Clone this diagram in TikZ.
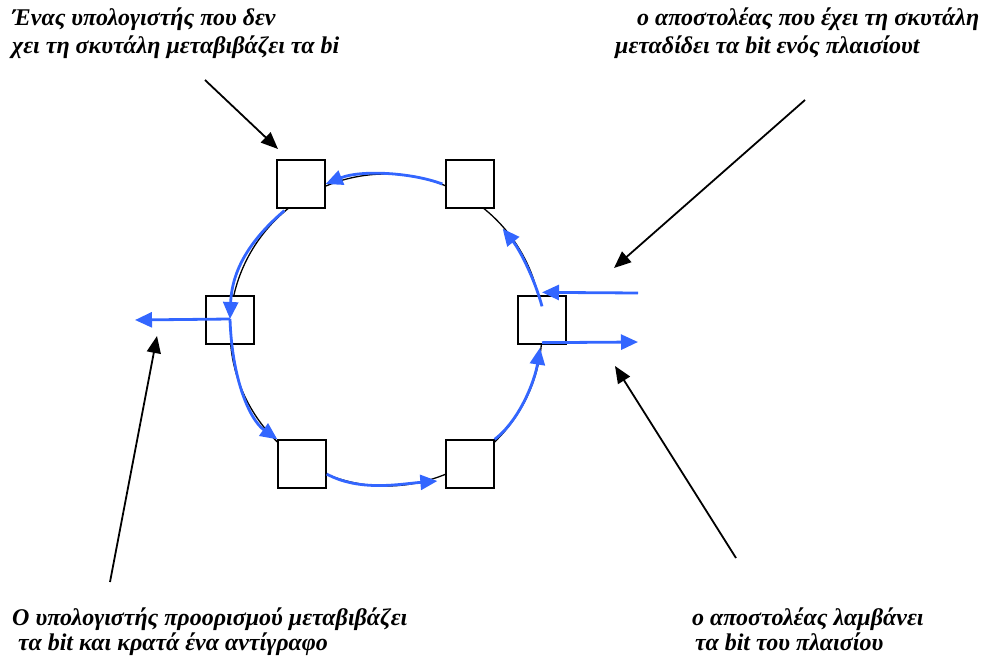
\documentclass[tikz,border=0pt]{standalone}
\usepackage{fontspec}
\setmainfont{Liberation Serif}
\usetikzlibrary{arrows.meta,calc}
\definecolor{flow}{RGB}{51,102,255}
\begin{document}
\begin{tikzpicture}[x=1pt,y=-1pt,
  station/.style={draw=black,fill=white,line width=1.3pt,minimum size=48pt,inner sep=0pt},
  ring/.style={draw=black,line width=1.3pt},
  flowarrow/.style={draw=flow,line width=2.8pt,-{Triangle[length=17pt,width=15pt]}},
  pointer/.style={draw=black,line width=1.8pt,-{Triangle[length=17pt,width=14pt]}},
  caption/.style={anchor=base west,inner sep=0pt,font=\fontsize{24}{26}\selectfont\bfseries\itshape}]
\useasboundingbox (0,0) rectangle (983,659);

% token ring
\draw[ring] (386,330) circle[radius=156];

% stations on the ring
\node[station] (tl) at (301,184) {};
\node[station] (tr) at (470,184) {};
\node[station] (lf) at (230,320) {};
\node[station] (rt) at (542,320) {};
\node[station] (bl) at (302,464) {};
\node[station] (br) at (470,464) {};

% free ends of the side connectors
\coordinate (inS) at (638,293);
\coordinate (outE) at (638,342);
\coordinate (copyE) at (135,320);
\coordinate (tap) at (230,319);
\coordinate (p1) at (205,80);
\coordinate (p1e) at (278,149);
\coordinate (p2) at (805,100);
\coordinate (p2e) at (614,268);
\coordinate (p3) at (110,582);
\coordinate (p3e) at (157,336);
\coordinate (p4) at (736,558);
\coordinate (p4e) at (615,366);

% bits travelling round the ring
\draw[flowarrow] ($(tr.west)+(-3,0)$) .. controls (410,172) and (360,170) .. (tl.east);
\draw[flowarrow] ($(tl.south west)+(8,2)$) .. controls (250,240) and (232,270) .. (tap);
\draw[flowarrow] (tap) -- (copyE);
\draw[flowarrow] (tap) .. controls (232,380) and (250,420) .. (bl.north west);
\draw[flowarrow] ($(bl.east)+(0,10)$) .. controls (360,492) and (400,484) .. ($(br.west)+(-8,17)$);
\draw[flowarrow] (br.north east) .. controls (520,420) and (535,380) .. ($(rt.south)+(-2,3)$);
\draw[flowarrow] (inS) -- ($(rt.north)+(0,-3)$);
\draw[flowarrow] ($(rt.north)+(0,11)$) .. controls (535,280) and (520,250) .. ($(tr.south east)+(8,20)$);
\draw[flowarrow] ($(rt.south)+(0,-2)$) -- (outE);

% explanatory pointers
\draw[pointer] (p1) -- (p1e);
\draw[pointer] (p2) -- (p2e);
\draw[pointer] (p3) -- (p3e);
\draw[pointer] (p4) -- (p4e);

% captions
\node[caption] (c1a) at (12,25) {Ένας υπολογιστής που δεν};
\node[caption] (c1b) at (12,53) {χει τη σκυτάλη μεταβιβάζει τα bi};
\node[caption] (c2a) at (637,25) {ο αποστολέας που έχει τη σκυτάλη};
\node[caption] (c2b) at (615,53) {μεταδίδει τα bit ενός πλαισίουt};
\node[caption] (c3a) at (12,625) {Ο υπολογιστής προορισμού μεταβιβάζει};
\node[caption] (c3b) at (18,650) {τα bit και κρατά ένα αντίγραφο};
\node[caption] (c4a) at (692,625) {ο αποστολέας λαμβάνει};
\node[caption] (c4b) at (695,650) {τα bit του πλαισίου};
\end{tikzpicture}
\end{document}
